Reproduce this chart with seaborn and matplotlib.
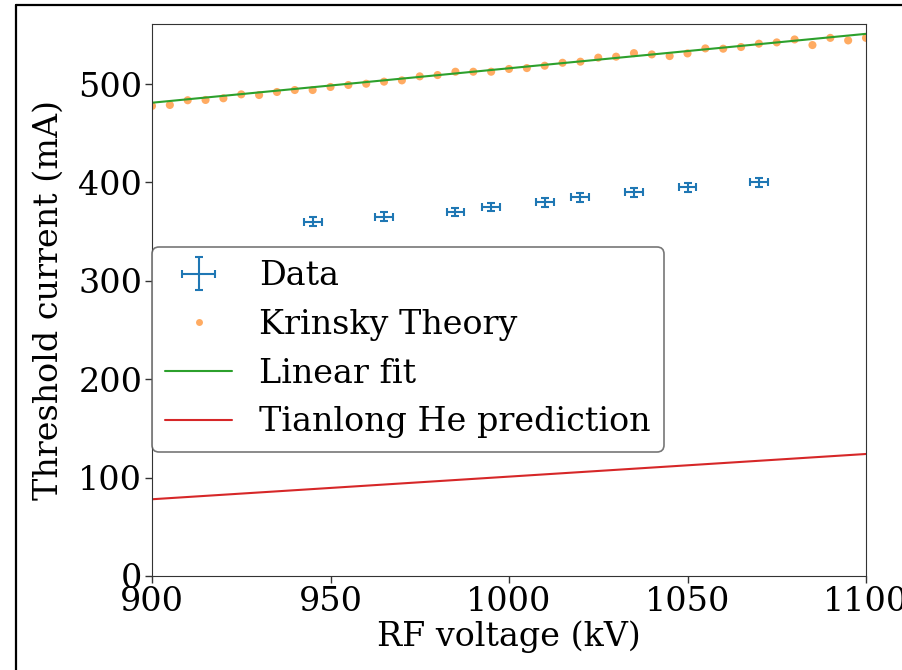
import numpy as np
import pandas as pd
import matplotlib
matplotlib.use("Agg")
import matplotlib.pyplot as plt
from matplotlib.lines import Line2D
import seaborn as sns

# ---- data ----
data_kv = [945, 965, 985, 995, 1010, 1020, 1035, 1050, 1070]
data_ma = [360, 365, 370, 375, 380, 385, 390, 395, 400]
data_xerr = 2.5
data_yerr = 4.5

krinsky_kv = [900, 905, 910, 915, 920, 925, 930, 935, 940, 945,
              950, 955, 960, 965, 970, 975, 980, 985, 990, 995,
              1000, 1005, 1010, 1015, 1020, 1025, 1030, 1035, 1040, 1045,
              1050, 1055, 1060, 1065, 1070, 1075, 1080, 1085, 1090, 1095, 1100]
krinsky_ma = [477.7, 478.7, 483.5, 483.8, 485.5, 489.5, 488.8, 491.9, 493.9, 493.9,
              497.0, 499.0, 500.3, 502.4, 503.7, 507.8, 509.1, 512.5, 512.5, 512.5,
              515.3, 516.2, 518.6, 521.6, 522.7, 526.8, 527.8, 531.4, 530.1, 528.4,
              531.1, 536.2, 535.9, 537.6, 541.0, 542.3, 545.3, 539.6, 546.9, 544.3, 546.9]

fit_kv = [900, 1100]
fit_ma = [481, 551]

he_kv = [900, 1100]
he_ma = [78, 124]

sns.set_style("ticks")
plt.rcParams["font.family"] = ["DejaVu Serif"]
plt.rcParams["axes.edgecolor"] = "#333333"
plt.rcParams["xtick.color"] = "#333333"
plt.rcParams["ytick.color"] = "#333333"
plt.rcParams["xtick.labelcolor"] = "black"
plt.rcParams["ytick.labelcolor"] = "black"
plt.rcParams["text.color"] = "black"
plt.rcParams["axes.labelcolor"] = "black"

FS = 24

fig = plt.figure(figsize=(9.03, 6.70), dpi=100)
ax = fig.add_axes([152/903, 1 - 576/670, (866 - 152)/903, (576 - 24)/670])

blue = "#1f77b4"
orange = "#ff7f0e"
green = "#2ca02c"
red = "#d62728"

eb = ax.errorbar(data_kv, data_ma, xerr=data_xerr, yerr=data_yerr, fmt="none",
                 ecolor=blue, elinewidth=1.5, capsize=3, capthick=1.5, label="Data")

kdf = pd.DataFrame({"kv": krinsky_kv, "ma": krinsky_ma})
sns.scatterplot(data=kdf, x="kv", y="ma", ax=ax, color=orange, alpha=0.65,
                s=34, edgecolor="none", linewidth=0, label="Krinsky Theory", legend=False)

fdf = pd.DataFrame({"kv": fit_kv, "ma": fit_ma})
sns.lineplot(data=fdf, x="kv", y="ma", ax=ax, color=green, linewidth=1.5,
             label="Linear fit", legend=False)
hdf = pd.DataFrame({"kv": he_kv, "ma": he_ma})
sns.lineplot(data=hdf, x="kv", y="ma", ax=ax, color=red, linewidth=1.5,
             label="Tianlong He prediction", legend=False)

ax.set_xlim(900, 1100)
ax.set_ylim(0, 561)
ax.set_xticks([900, 950, 1000, 1050, 1100])
ax.set_yticks([0, 100, 200, 300, 400, 500])
ax.tick_params(labelsize=FS, length=5, width=1, pad=2)
ax.set_xlabel("RF voltage (kV)", fontsize=FS, labelpad=2)
ax.set_ylabel("Threshold current (mA)", fontsize=FS, labelpad=10)

kr_handle = Line2D([], [], linestyle="none", marker="o", markersize=5,
                   color=orange, alpha=0.65, markeredgewidth=0)
fit_handle = Line2D([], [], color=green, linewidth=1.5)
he_handle = Line2D([], [], color=red, linewidth=1.5)
leg = ax.legend([eb, kr_handle, fit_handle, he_handle],
                ["Data", "Krinsky Theory", "Linear fit", "Tianlong He prediction"],
                loc="lower left", bbox_to_anchor=(0.0, 0.225), borderaxespad=0,
                fontsize=FS, frameon=True, fancybox=True, handlelength=2.0,
                labelspacing=0.5)
leg.get_frame().set_edgecolor("#555555")
leg.get_frame().set_linewidth(1.2)
for t in leg.get_texts():
    t.set_color("black")

# screenshot-like border
fig.add_artist(Line2D([16/903, 16/903], [0, 1 - 5/670], transform=fig.transFigure,
                      color="black", linewidth=1.6))
fig.add_artist(Line2D([16/903, 1], [1 - 5/670, 1 - 5/670], transform=fig.transFigure,
                      color="black", linewidth=1.6))

fig.savefig("out.png", dpi=100)
